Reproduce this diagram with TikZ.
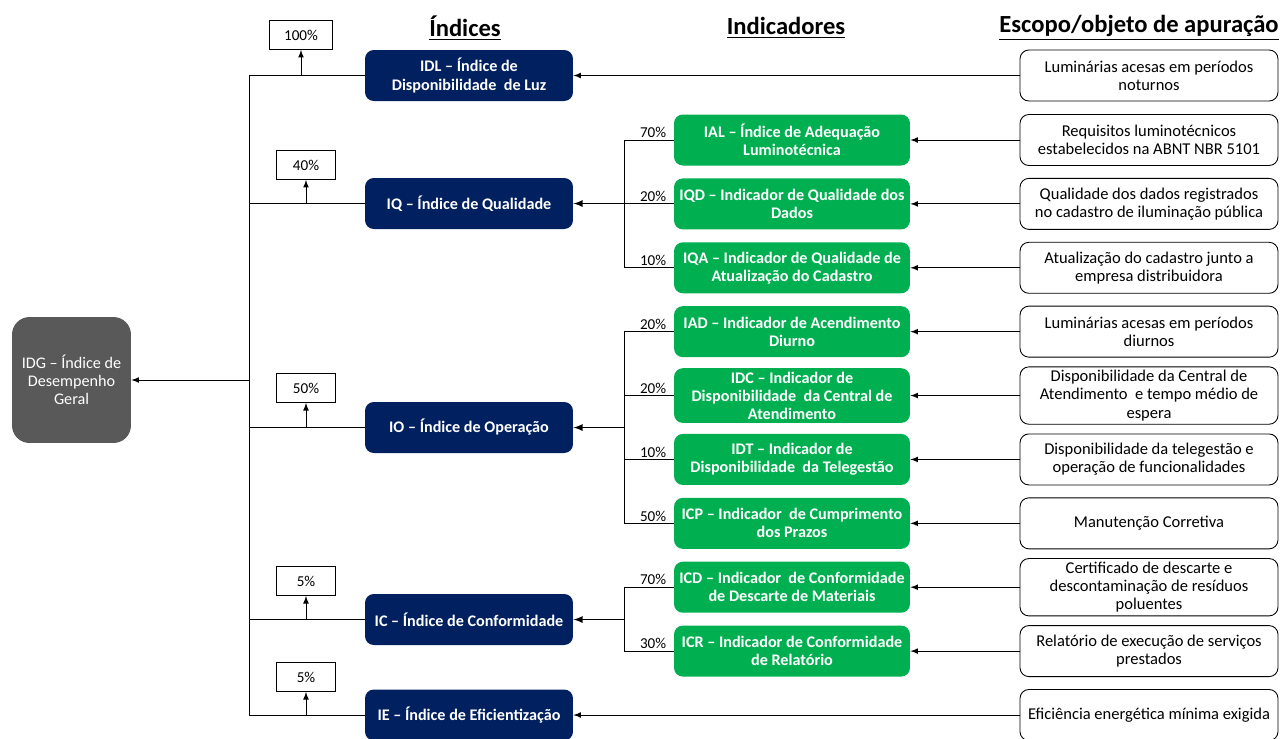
\documentclass[tikz,border=0pt]{standalone}
\usepackage{fontspec}
\setmainfont{Carlito}
\usetikzlibrary{positioning}
\definecolor{azulidx}{HTML}{002060}
\definecolor{verdeind}{HTML}{00B050}
\definecolor{cinzaidg}{HTML}{595959}
\tikzset{
	geral/.style={rectangle, rounded corners=10pt, inner sep=2pt, minimum width=2.38cm, minimum height=2.52cm, fill=cinzaidg, text=white, align=center, font=\fontsize{9.2}{10.3}\selectfont},
	indice/.style={rectangle, rounded corners=5pt, inner sep=2pt, minimum width=4.16cm, minimum height=1.02cm, fill=azulidx, text=white, align=center, font=\fontsize{9.2}{10.3}\selectfont\bfseries},
	indicador/.style={rectangle, rounded corners=5pt, inner sep=2pt, minimum width=4.72cm, minimum height=1.02cm, fill=verdeind, text=white, align=center, font=\fontsize{9.2}{10.3}\selectfont\bfseries},
	escopo/.style={draw, rectangle, rounded corners=5pt, inner sep=2pt, minimum width=5.16cm, minimum height=1.02cm, fill=white, align=center, font=\fontsize{9.4}{10.3}\selectfont},
	peso/.style={draw, rectangle, inner sep=2pt, minimum width=1.18cm, minimum height=0.58cm, font=\fontsize{8.6}{10}\selectfont},
	% percentual acima da ligacao de cada indicador
	pesolbl/.style={inner sep=1pt, font=\fontsize{8.6}{10}\selectfont},
	titulo/.style={font=\fontsize{14}{16}\selectfont\bfseries}
}

\begin{document}
\begin{tikzpicture}[x=0.02cm, y=-0.02cm, line width=0.5pt, node distance=1.278cm]
			\useasboundingbox (0,0) rectangle (1281,738);
			
			\node[titulo] (t1) at (465,28) {\underline{Índices}};
			\node[titulo] (t2) at (786,28) {\underline{Indicadores}};
			\node[titulo] (t3) at (1139,28) {\underline{Escopo/objeto de apuração}};
			
			\node (idg) [geral] at (71.5,380) {IDG – Índice de\\Desempenho\\Geral};
			
			\node (idl) [indice] at (469,75.5) {IDL – Índice de\\Disponibilidade\ \ de Luz};
			\node (iq) [indice] at (469,203.5) {IQ – Índice de Qualidade};
			\node (io) [indice] at (469,427.5) {IO – Índice de Operação};
			\node (ic) [indice] at (469,619.5) {IC – Índice de Conformidade};
			\node (ie) [indice] at (469,715) {IE – Índice de Eficientização};
			
			\node (p100) [peso, minimum width=1.26cm] at (301,35) {100\%};
			\node (p40) [peso] at (306,165) {40\%};
			\node (p50) [peso] at (306,388) {50\%};
			\node (p5a) [peso] at (306,581) {5\%};
			\node (p5b) [peso] at (306,677) {5\%};
			
			\node (ial) [indicador] at (792,140) {IAL – Índice de Adequação\\Luminotécnica};
			\node (iqd) [indicador, below of=ial] {IQD – Indicador de Qualidade dos\\Dados};
			\node (iqa) [indicador, below of=iqd] {IQA – Indicador de Qualidade de\\Atualização do Cadastro};
			\node (iad) [indicador, below of=iqa] {IAD – Indicador de Acendimento\\Diurno};
			\node (idc) [indicador, below of=iad] {IDC – Indicador de\\Disponibilidade\ \ da Central de\\Atendimento};
			\node (idt) [indicador, below of=idc] {IDT – Indicador de\\Disponibilidade\ \ da Telegestão};
			\node (icp) [indicador, below of=idt] {ICP – Indicador\ \ de Cumprimento\\dos Prazos};
			\node (icd) [indicador, below of=icp] {ICD – Indicador\ \ de Conformidade\\de Descarte de Materiais};
			\node (icr) [indicador, below of=icd] {ICR – Indicador de Conformidade\\de Relatório};
			
			\node (e1) [escopo] at (1149,75.5) {Luminárias acesas em períodos\\noturnos};
			\node (e2) [escopo] at (1149,140) {Requisitos luminotécnicos\\estabelecidos na ABNT NBR 5101};
			\node (e3) [escopo, below of=e2] {Qualidade dos dados registrados\\no cadastro de iluminação pública};
			\node (e4) [escopo, below of=e3] {Atualização do cadastro junto a\\empresa distribuidora};
			\node (e5) [escopo, below of=e4] {Luminárias acesas em períodos\\diurnos};
			\node (e6) [escopo, below of=e5] {Disponibilidade da Central de\\Atendimento\ \ e tempo médio de\\espera};
			\node (e7) [escopo, below of=e6] {Disponibilidade da telegestão e\\operação de funcionalidades};
			\node (e8) [escopo, below of=e7] {Manutenção Corretiva};
			\node (e9) [escopo, below of=e8] {Certificado de descarte e\\descontaminação de resíduos\\poluentes};
			\node (e10) [escopo, below of=e9] {Relatório de execução de serviços\\prestados};
			\node (e11) [escopo] at (1149,715) {Eficiência energética mínima exigida};
			
			\node[pesolbl, above left=0pt and 3pt of ial.west] {70\%};
			\node[pesolbl, above left=0pt and 3pt of iqd.west] {20\%};
			\node[pesolbl, above left=0pt and 3pt of iqa.west] {10\%};
			\node[pesolbl, above left=0pt and 3pt of iad.west] {20\%};
			\node[pesolbl, above left=0pt and 3pt of idc.west] {20\%};
			\node[pesolbl, above left=0pt and 3pt of idt.west] {10\%};
			\node[pesolbl, above left=0pt and 3pt of icp.west] {50\%};
			\node[pesolbl, above left=0pt and 3pt of icd.west] {70\%};
			\node[pesolbl, above left=0pt and 3pt of icr.west] {30\%};
			
			\coordinate (bus) at (249,380);
			\coordinate (bq) at (624,203.5);
			\coordinate (bo) at (624,427.5);
			\coordinate (bc) at (624,619.5);
			
			% barramento dos indices
			\draw (idl.west) -- (idl.west -| bus) -- (ie.west -| bus) -- (ie.west);
			\draw (iq.west) -- (iq.west -| bus);
			\draw (io.west) -- (io.west -| bus);
			\draw (ic.west) -- (ic.west -| bus);
			
			% barramentos dos indicadores
			\draw (ial.west) -- (ial.west -| bq) -- (iqa.west -| bq) -- (iqa.west);
			\draw (iqd.west) -- (iqd.west -| bq);
			\draw (iad.west) -- (iad.west -| bo) -- (icp.west -| bo) -- (icp.west);
			\draw (idc.west) -- (idc.west -| bo);
			\draw (idt.west) -- (idt.west -| bo);
			\draw (icd.west) -- (icd.west -| bc) -- (icr.west -| bc) -- (icr.west);
			
			\begin{scope}[black, ->, >=latex]
				\draw (bus) -- (idg);
				\draw (p100 |- idl.west) -- (p100);
				\draw (p40 |- iq.west) -- (p40);
				\draw (p50 |- io.west) -- (p50);
				\draw (p5a |- ic.west) -- (p5a);
				\draw (p5b |- ie.west) -- (p5b);
				
				\draw[line width=0.8pt] (bq) -- (iq);
				\draw[line width=0.8pt] (bo) -- (io);
				\draw[line width=0.8pt] (bc) -- (ic);
				
				\draw (e1) -- (idl);
				\draw (e2) -- (ial);
				\draw (e3) -- (iqd);
				\draw (e4) -- (iqa);
				\draw (e5) -- (iad);
				\draw (e6) -- (idc);
				\draw (e7) -- (idt);
				\draw (e8) -- (icp);
				\draw (e9) -- (icd);
				\draw (e10) -- (icr);
				\draw (e11) -- (ie);
			\end{scope}
		\end{tikzpicture}
\end{document}
